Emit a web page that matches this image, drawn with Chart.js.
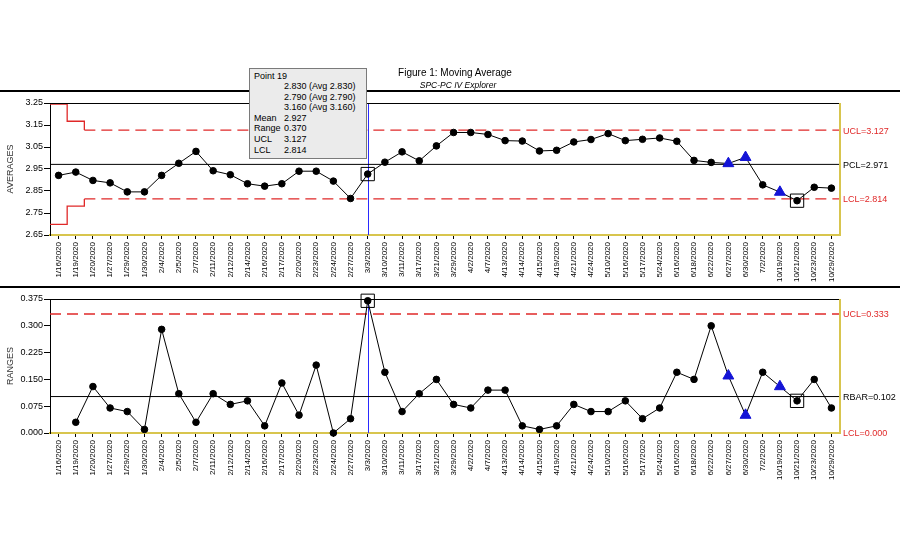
<!DOCTYPE html>
<html>
<head>
<meta charset="utf-8">
<title>Moving Average</title>
<script src="https://cdn.jsdelivr.net/npm/chart.js@4.4.1/dist/chart.umd.min.js"></script>
<style>
  body { margin: 0; background: #fff; }
  #wrap { position: relative; width: 900px; height: 550px; overflow: hidden; font-family: Arial, "Liberation Sans", sans-serif; }
  canvas { position: absolute; left: 0; }
  #avgChart { top: 0; }
  #rangeChart { top: 287px; }
  .rule { position: absolute; left: 0; width: 900px; height: 2px; background: #000; }
  #title { position: absolute; left: 355px; top: 67px; width: 200px; text-align: center; font-size: 10px; line-height: 12px; color: #000; }
  #subtitle { position: absolute; left: 358px; top: 80px; width: 200px; text-align: center; font-size: 8.5px; line-height: 10px; font-style: italic; color: #000; }
  #tip { position: absolute; left: 249px; top: 68px; width: 112px; height: 87px; background: #ebebeb; border: 1px solid #7a7a7a; padding: 1.5px 0 0 4px; box-sizing: content-box; font-size: 9px; color: #000; }
  #tip div { height: 10.6px; line-height: 10.6px; white-space: nowrap; }
  #tip span { display: inline-block; width: 30px; }
</style>
</head>
<body>
<div id="wrap">
  <canvas id="avgChart" width="900" height="287"></canvas>
  <canvas id="rangeChart" width="900" height="263"></canvas>
  <div class="rule" style="top:90px"></div>
  <div class="rule" style="top:286px"></div>
  <div id="title">Figure 1: Moving Average</div>
  <div id="subtitle">SPC-PC IV Explorer</div>
  <div id="tip"></div>
</div>
<script>
// sample dates (x categories)
const dates = ['1/16/2020', '1/19/2020', '1/20/2020', '1/27/2020', '1/29/2020', '1/30/2020', '2/4/2020', '2/5/2020',
  '2/7/2020', '2/11/2020', '2/12/2020', '2/14/2020', '2/16/2020', '2/17/2020', '2/20/2020', '2/23/2020', '2/24/2020',
  '2/27/2020', '3/3/2020', '3/10/2020', '3/11/2020', '3/17/2020', '3/21/2020', '3/29/2020', '4/2/2020', '4/7/2020',
  '4/13/2020', '4/14/2020', '4/15/2020', '4/19/2020', '4/21/2020', '4/24/2020', '5/10/2020', '5/16/2020', '5/17/2020',
  '5/24/2020', '6/16/2020', '6/18/2020', '6/22/2020', '6/27/2020', '6/30/2020', '7/2/2020', '10/19/2020', '10/21/2020',
  '10/23/2020', '10/29/2020'];

// moving averages (top chart)
const averages = [2.921, 2.936, 2.898, 2.887, 2.846, 2.846, 2.921, 2.976, 3.030, 2.942,
  2.924, 2.883, 2.872, 2.883, 2.940, 2.940, 2.895, 2.816, 2.927, 2.981,
  3.028, 2.987, 3.055, 3.116, 3.116, 3.107, 3.079, 3.077, 3.032, 3.035,
  3.073, 3.084, 3.111, 3.079, 3.085, 3.091, 3.076, 2.989, 2.980, 2.975,
  3.003, 2.878, 2.845, 2.806, 2.867, 2.863];

// ranges (bottom chart), first point has none
const ranges = [null, 0.03, 0.13, 0.07, 0.06, 0.01, 0.29, 0.11, 0.03, 0.11,
  0.08, 0.09, 0.02, 0.14, 0.05, 0.19, 0.00, 0.04, 0.37, 0.17,
  0.06, 0.11, 0.15, 0.08, 0.07, 0.12, 0.12, 0.02, 0.01, 0.02,
  0.08, 0.06, 0.06, 0.09, 0.04, 0.07, 0.17, 0.15, 0.30, 0.16,
  0.05, 0.17, 0.13, 0.09, 0.15, 0.07];

const avgTicks = [2.65, 2.75, 2.85, 2.95, 3.05, 3.15, 3.25];
const rangeTicks = [0, 0.075, 0.15, 0.225, 0.3, 0.375];

// control limits
const avgUCL = 3.127, avgPCL = 2.971, avgLCL = 2.814;
const avgUCLSteps = [3.245, 3.167];
const avgLCLSteps = [2.698, 2.781];
const rangeUCL = 0.333, rangeBar = 0.102, rangeLCL = 0.000;

const flagged = [39, 40, 42];   // blue triangles
const boxed = [18, 43];         // square markers
const cursorIndex = 18;         // Point 19
const tipSamples = [2.830, 2.790, 3.160];

const RED = '#e02828';
const YELLOW = '#d8c54e';

// tooltip box text
const tipRows = [['Point ' + (cursorIndex + 1), '']]
  .concat(tipSamples.map(v => ['', v.toFixed(3) + ' (Avg ' + v.toFixed(3) + ')']))
  .concat([['Mean', averages[cursorIndex].toFixed(3)], ['Range', ranges[cursorIndex].toFixed(3)],
    ['UCL', avgUCL.toFixed(3)], ['LCL', avgLCL.toFixed(3)]]);
document.getElementById('tip').innerHTML = tipRows.map(r =>
  r[1] === '' ? '<div>' + r[0] + '</div>' : '<div><span>' + r[0] + '</span>' + r[1] + '</div>').join('');

const spcLines = {
  id: 'spcLines',
  beforeDatasetsDraw(chart, args, opts) {
    const { ctx, chartArea: a, scales: { x, y } } = chart;
    ctx.save();
    const cx = Math.round(x.getPixelForValue(cursorIndex)) + 0.5;
    ctx.strokeStyle = '#2a2aff';
    ctx.lineWidth = 1;
    ctx.beginPath(); ctx.moveTo(cx, a.top); ctx.lineTo(cx, a.bottom); ctx.stroke();
    opts.lines.forEach(l => {
      if (l.hide) return;
      const yv = y.getPixelForValue(l.value);
      ctx.strokeStyle = l.color;
      ctx.lineWidth = l.width;
      let x0 = a.left;
      if (l.steps) {
        ctx.setLineDash([]);
        ctx.beginPath();
        l.steps.forEach((sv, i) => {
          const py = y.getPixelForValue(sv);
          const mid = (x.getPixelForValue(i) + x.getPixelForValue(i + 1)) / 2;
          if (i === 0) ctx.moveTo(x0, py); else ctx.lineTo(x0, py);
          ctx.lineTo(mid, py);
          x0 = mid;
        });
        ctx.lineTo(x0, yv);
        ctx.stroke();
      }
      ctx.setLineDash(l.dash || []);
      ctx.beginPath(); ctx.moveTo(x0, yv); ctx.lineTo(a.right, yv); ctx.stroke();
    });
    ctx.restore();
  },
  afterDraw(chart, args, opts) {
    const { ctx, chartArea: a, scales: { y } } = chart;
    ctx.save();
    ctx.strokeStyle = '#000';
    ctx.lineWidth = 1;
    ctx.beginPath(); ctx.moveTo(a.left, Math.round(a.top) + 0.5); ctx.lineTo(a.right, Math.round(a.top) + 0.5); ctx.stroke();
    ctx.strokeStyle = YELLOW;
    ctx.lineWidth = 2;
    ctx.beginPath(); ctx.moveTo(a.right, a.top); ctx.lineTo(a.right, a.bottom + 1); ctx.stroke();
    ctx.font = '9px Arial';
    ctx.textBaseline = 'middle';
    opts.lines.forEach(l => {
      ctx.fillStyle = l.textColor;
      ctx.fillText(l.label + '=' + l.value.toFixed(3), a.right + 3, y.getPixelForValue(l.value) + 1);
    });
    ctx.restore();
  }
};

function makeChart(id, values, tickVals, yMin, yMax, decimals, yTitle, lines, padTop, xHeight) {
  return new Chart(document.getElementById(id), {
    type: 'line',
    data: {
      labels: dates,
      datasets: [
        {
          data: values.map((v, i) => boxed.includes(i) ? v : null),
          showLine: false,
          pointStyle: 'rect',
          pointRadius: 9.4,
          pointBackgroundColor: 'rgba(0,0,0,0)',
          pointBorderColor: '#000',
          pointBorderWidth: 1,
          clip: false,
          order: 0
        },
        {
          data: values,
          borderColor: '#000',
          borderWidth: 1,
          pointStyle: c => flagged.includes(c.dataIndex) ? 'triangle' : 'circle',
          pointRadius: c => flagged.includes(c.dataIndex) ? 6.3 : 3.3,
          pointBackgroundColor: c => flagged.includes(c.dataIndex) ? '#1414d6' : '#000',
          pointBorderColor: c => flagged.includes(c.dataIndex) ? '#1414d6' : '#000',
          pointBorderWidth: 1,
          clip: false,
          order: 1
        }
      ]
    },
    options: {
      responsive: false,
      animation: false,
      events: [],
      layout: { padding: { top: padTop, right: 60, left: 0, bottom: 0 } },
      plugins: {
        legend: { display: false },
        tooltip: { enabled: false },
        spcLines: { lines: lines }
      },
      scales: {
        x: {
          offset: true,
          grid: { drawOnChartArea: false, color: '#000', tickLength: 4 },
          border: { color: YELLOW, width: 2 },
          ticks: { autoSkip: false, maxRotation: 90, minRotation: 90, padding: 3, color: '#000', font: { family: 'Arial', size: 8 } },
          afterFit: s => { s.height = xHeight; }
        },
        y: {
          min: yMin,
          max: yMax,
          afterBuildTicks: s => { s.ticks = tickVals.map(v => ({ value: v })); },
          grid: { drawOnChartArea: false, color: '#000', tickLength: 6 },
          border: { color: '#000', width: 1 },
          ticks: { padding: 1, color: '#000', font: { family: 'Arial', size: 9 }, callback: v => Number(v).toFixed(decimals) },
          title: { display: true, text: yTitle, color: '#333', font: { family: 'Arial', size: 9 }, padding: { top: 5, bottom: 0 } },
          afterFit: s => { s.width = 50; }
        }
      }
    },
    plugins: [spcLines]
  });
}

makeChart('avgChart', averages, avgTicks, 2.65, 3.25, 2, 'AVERAGES', [
  { label: 'UCL', value: avgUCL, steps: avgUCLSteps, color: RED, textColor: RED, width: 1.3, dash: [11, 6] },
  { label: 'PCL', value: avgPCL, color: '#000', textColor: '#000', width: 1 },
  { label: 'LCL', value: avgLCL, steps: avgLCLSteps, color: RED, textColor: RED, width: 1.3, dash: [11, 6] }
], 103, 52);

makeChart('rangeChart', ranges, rangeTicks, 0, 0.375, 3, 'RANGES', [
  { label: 'UCL', value: rangeUCL, color: RED, textColor: RED, width: 1.3, dash: [11, 6] },
  { label: 'RBAR', value: rangeBar, color: '#000', textColor: '#000', width: 1 },
  { label: 'LCL', value: rangeLCL, color: RED, textColor: RED, width: 1.3, hide: true }
], 12, 117);
</script>
</body>
</html>
